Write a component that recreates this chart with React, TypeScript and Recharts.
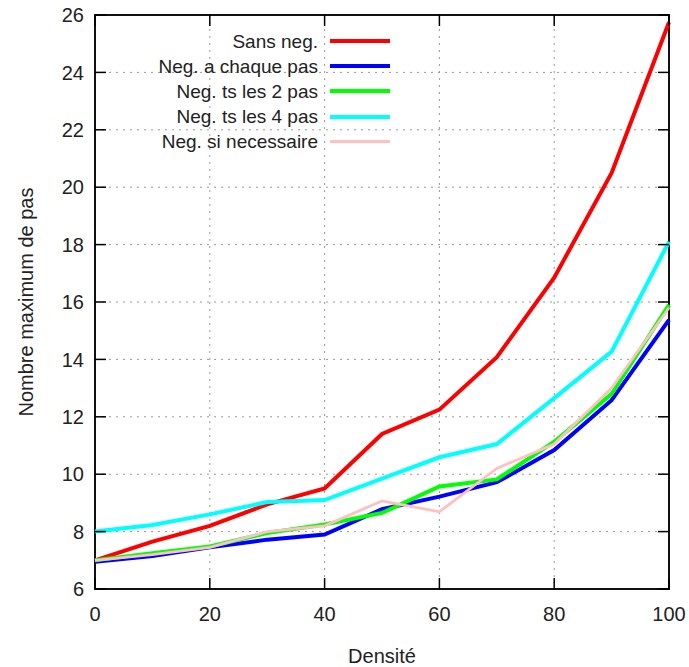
import React from 'react';
import { LineChart, Line, XAxis, YAxis, CartesianGrid, ReferenceArea } from 'recharts';

const densite = [0, 10, 20, 30, 40, 50, 60, 70, 80, 90, 100];
const sansNeg = [7.0, 7.65, 8.2, 8.95, 9.5, 11.4, 12.25, 14.08, 16.85, 20.5, 25.75];
const negChaquePas = [6.95, 7.15, 7.45, 7.72, 7.9, 8.78, 9.22, 9.72, 10.84, 12.58, 15.38];
const negTs2Pas = [7.0, 7.25, 7.48, 7.95, 8.25, 8.65, 9.57, 9.82, 11.13, 12.8, 15.9];
const negTs4Pas = [8.0, 8.23, 8.6, 9.03, 9.1, 9.85, 10.59, 11.05, 12.65, 14.27, 18.1];
const negSiNecessaire = [7.0, 7.2, 7.45, 8.0, 8.2, 9.07, 8.69, 10.2, 11.05, 13.0, 15.8];

const xTicks = [0, 20, 40, 60, 80, 100];
const yTicks = [6, 8, 10, 12, 14, 16, 18, 20, 22, 24, 26];

const series = [
  { key: 'sansNeg', name: 'Sans neg.', color: '#ff0000', width: 4, values: sansNeg },
  { key: 'negChaquePas', name: 'Neg. a chaque pas', color: '#0000ff', width: 4, values: negChaquePas },
  { key: 'negTs2Pas', name: 'Neg. ts les 2 pas', color: '#00ff00', width: 4, values: negTs2Pas },
  { key: 'negTs4Pas', name: 'Neg. ts les 4 pas', color: '#00ffff', width: 4, values: negTs4Pas },
  { key: 'negSiNecessaire', name: 'Neg. si necessaire', color: '#ffc0c0', width: 2.8, values: negSiNecessaire },
];

const data = densite.map((d, i) => {
  const row: Record<string, number> = { densite: d };
  series.forEach((s) => {
    row[s.key] = s.values[i];
  });
  return row;
});

const FONT = '"Liberation Sans", Arial, sans-serif';
const W = 689;
const H = 667;
const MARGIN = { top: 15, right: 20, bottom: 48, left: 35 };
const Y_AXIS_W = 60;
const X_AXIS_H = 30;
const PLOT_LEFT = MARGIN.left + Y_AXIS_W;
const PLOT_RIGHT = W - MARGIN.right;
const PLOT_TOP = MARGIN.top;
const PLOT_BOTTOM = H - MARGIN.bottom - X_AXIS_H;
const TICK_LEN = 11;
const TEXT = '#222';

const XTick = (p: any) => {
  const x = p.payload.coordinate;
  return (
    <g>
      <line x1={x} x2={x} y1={PLOT_BOTTOM} y2={PLOT_BOTTOM - TICK_LEN} stroke="#000" strokeWidth={1.5} />
      <line x1={x} x2={x} y1={PLOT_TOP} y2={PLOT_TOP + TICK_LEN} stroke="#000" strokeWidth={1.5} />
      <text x={x} y={PLOT_BOTTOM + 18} dy="0.71em" textAnchor="middle" fontSize={20} fill={TEXT} fontFamily={FONT}>
        {p.payload.value}
      </text>
    </g>
  );
};

const YTick = (p: any) => {
  const y = p.payload.coordinate;
  return (
    <g>
      <line x1={PLOT_LEFT} x2={PLOT_LEFT + TICK_LEN} y1={y} y2={y} stroke="#000" strokeWidth={1.5} />
      <line x1={PLOT_RIGHT} x2={PLOT_RIGHT - TICK_LEN} y1={y} y2={y} stroke="#000" strokeWidth={1.5} />
      <text x={PLOT_LEFT - 11} y={y} dy="0.355em" textAnchor="end" fontSize={20} fill={TEXT} fontFamily={FONT}>
        {p.payload.value}
      </text>
    </g>
  );
};

export default function App() {
  return (
    <div style={{ position: 'absolute', left: 0, top: 0, width: W, height: H, fontFamily: FONT }}>
      <LineChart width={W} height={H} data={data} margin={MARGIN}>
        <CartesianGrid xAxisId="b" yAxisId="l" stroke="#999" strokeDasharray="2 5" strokeWidth={1} horizontalValues={yTicks} verticalValues={xTicks} />
        <XAxis
          xAxisId="b"
          dataKey="densite"
          type="number"
          domain={[0, 100]}
          ticks={xTicks}
          tickSize={0}
          height={X_AXIS_H}
          axisLine={false}
          tickLine={false}
          tick={XTick}
          interval={0}
          label={{ value: 'Densité', position: 'insideBottom', offset: -44, style: { fontSize: 20, fill: TEXT, fontFamily: FONT } }}
        />
        <YAxis
          yAxisId="l"
          type="number"
          domain={[6, 26]}
          ticks={yTicks}
          tickSize={0}
          width={Y_AXIS_W}
          axisLine={false}
          tickLine={false}
          tick={YTick}
          interval={0}
          label={{ value: 'Nombre maximum de pas', angle: -90, position: 'insideLeft', offset: -9, style: { fontSize: 20, fill: TEXT, fontFamily: FONT, textAnchor: 'middle' } }}
        />
        <ReferenceArea
          xAxisId="b"
          yAxisId="l"
          x1={0}
          x2={100}
          y1={6}
          y2={26}
          fill="none"
          fillOpacity={0}
          stroke="#111"
          strokeWidth={2}
          ifOverflow="visible"
        />
        {series.map((s) => (
          <Line
            key={s.key}
            xAxisId="b"
            yAxisId="l"
            type="linear"
            dataKey={s.key}
            name={s.name}
            stroke={s.color}
            strokeWidth={s.width}
            dot={false}
            activeDot={false}
            isAnimationActive={false}
          />
        ))}
      </LineChart>
      <div style={{ position: 'absolute', left: 40, top: 28.5, width: 350 }}>
        {series.map((s) => (
          <div key={s.key} style={{ display: 'flex', alignItems: 'center', height: 25.2, justifyContent: 'flex-end' }}>
            <span style={{ fontSize: 19, color: TEXT, marginRight: 12, whiteSpace: 'nowrap', lineHeight: '25px' }}>{s.name}</span>
            <span style={{ display: 'inline-block', width: 60, height: s.width === 4 ? 4 : 3, background: s.color, marginRight: 0 }} />
          </div>
        ))}
      </div>
    </div>
  );
}
